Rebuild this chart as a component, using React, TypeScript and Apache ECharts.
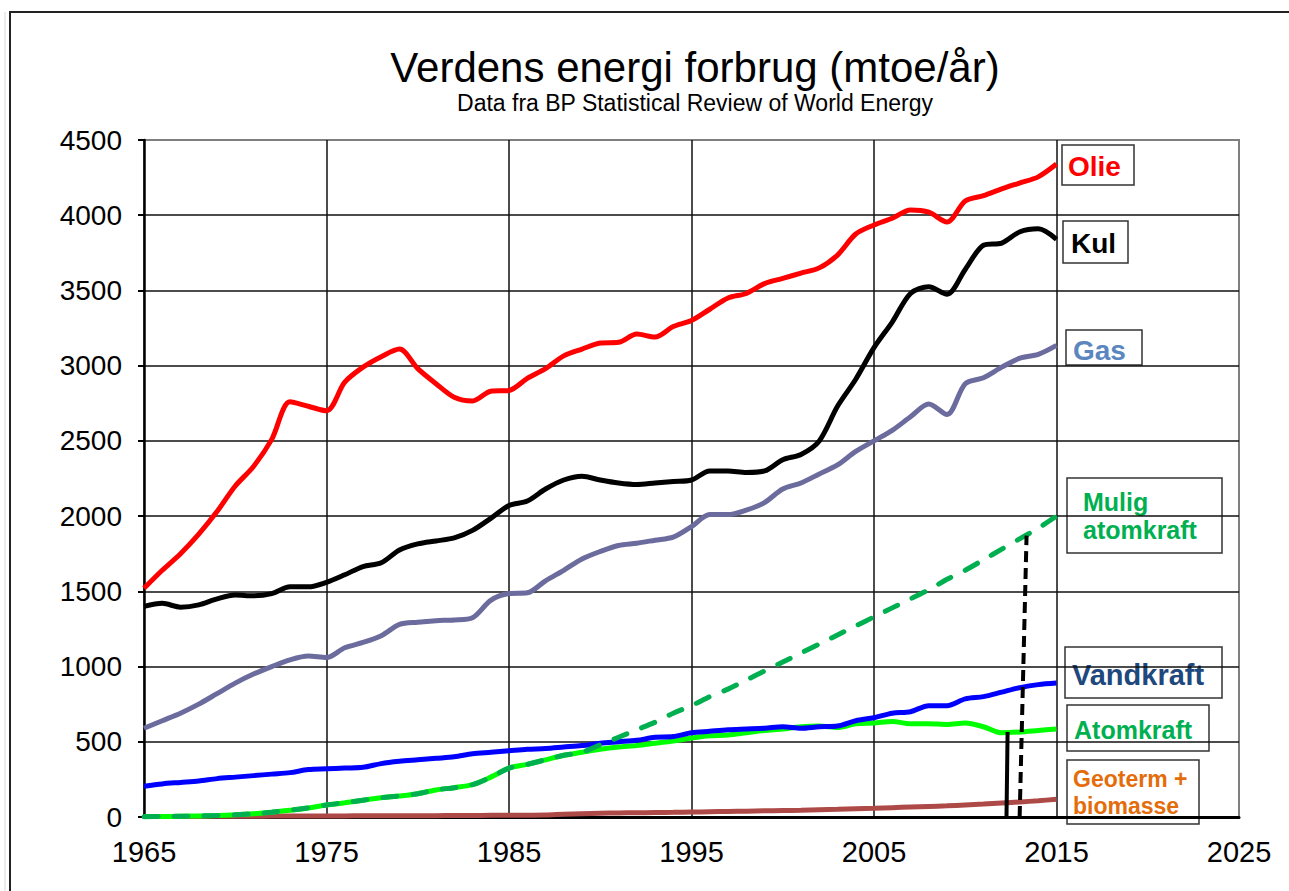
import React, { useEffect, useRef } from "react";
import * as echarts from "echarts";

const BASE_YEAR = 1965;
const years = [
  1965, 1966, 1967, 1968, 1969, 1970, 1971, 1972, 1973, 1974,
  1975, 1976, 1977, 1978, 1979, 1980, 1981, 1982, 1983, 1984,
  1985, 1986, 1987, 1988, 1989, 1990, 1991, 1992, 1993, 1994,
  1995, 1996, 1997, 1998, 1999, 2000, 2001, 2002, 2003, 2004,
  2005, 2006, 2007, 2008, 2009, 2010, 2011, 2012, 2013, 2014, 2015,
];
const xTickLabels = ["1965", "1975", "1985", "1995", "2005", "2015", "2025"];
const yTickLabels = ["0", "500", "1000", "1500", "2000", "2500", "3000", "3500", "4000", "4500"];

const olie = [
  1520, 1640, 1750, 1880, 2030, 2200, 2330, 2510, 2760, 2730,
  2700, 2890, 2990, 3060, 3110, 2980, 2880, 2790, 2765, 2830,
  2835, 2915, 2980, 3065, 3110, 3150, 3155, 3210, 3190, 3260,
  3300, 3375, 3450, 3480, 3545, 3580, 3615, 3650, 3735, 3875,
  3935, 3980, 4035, 4020, 3955, 4095, 4130, 4175, 4215, 4255, 4340,
];
const kul = [
  1400, 1420, 1395, 1410, 1450, 1475, 1470, 1485, 1530, 1530,
  1560, 1610, 1665, 1690, 1775, 1815, 1835, 1855, 1905, 1985,
  2070, 2100, 2180, 2240, 2265, 2240, 2220, 2210, 2220, 2230,
  2240, 2300, 2300, 2290, 2300, 2375, 2410, 2500, 2730, 2910,
  3120, 3290, 3480, 3525, 3475, 3640, 3800, 3815, 3890, 3910, 3840,
];
const gas = [
  590, 640, 690, 750, 820, 890, 950, 1000, 1045, 1070,
  1060, 1125, 1160, 1205, 1280, 1295, 1305, 1310, 1325, 1440,
  1485, 1490, 1570, 1640, 1715, 1765, 1805, 1820, 1840, 1860,
  1930, 2010, 2010, 2040, 2090, 2180, 2220, 2280, 2340, 2430,
  2500, 2570, 2660, 2745, 2675, 2880, 2920, 2990, 3050, 3075, 3135,
];
const vandkraft = [
  205, 220, 230, 240, 255, 265, 275, 285, 295, 315,
  320, 325, 330, 355, 370, 380, 390, 400, 420, 430,
  440, 450, 455, 465, 475, 490, 500, 510, 530, 535,
  560, 570, 580, 585, 590, 600, 590, 600, 605, 640,
  660, 690, 700, 740, 740, 785, 800, 830, 860, 880, 890,
];
const atomkraft = [
  2, 3, 5, 7, 10, 15, 22, 32, 45, 60,
  80, 95, 112, 128, 140, 155, 180, 195, 215, 265,
  325, 350, 380, 410, 430, 450, 465, 475, 490, 505,
  525, 540, 545, 560, 575, 585, 600, 605, 595, 620,
  625, 635, 620, 620, 615, 625, 600, 560, 565, 575, 585,
];
const geoterm = [
  3, 3, 4, 4, 5, 5, 5, 6, 6, 6,
  7, 7, 8, 8, 8, 9, 9, 10, 10, 11,
  12, 12, 13, 18, 22, 25, 27, 28, 30, 31,
  33, 35, 37, 39, 41, 43, 45, 48, 51, 55,
  58, 62, 66, 70, 74, 80, 86, 93, 100, 108, 118,
];
// "Mulig atomkraft": follows Atomkraft up to 1989, then this projection 1990-2015
const muligFromYear = 1990;
const muligProjection = [
  480, 530, 580, 630, 690, 740, 800, 850, 910, 970,
  1030, 1090, 1150, 1210, 1270, 1330, 1390, 1450, 1510, 1580,
  1640, 1710, 1780, 1850, 1920, 2000,
];
// Vertical marker lines (year, value)
const markerSolid = [[2012.26, 0], [2012.32, 565]];
const markerDashed = [[2012.98, 0], [2013.36, 1870]];

const FONT = '"Liberation Sans", Arial, sans-serif';

function toPairs(vals: number[], startYear = BASE_YEAR) {
  return vals.map((v, i) => [startYear + i - BASE_YEAR, v]);
}

export default function App() {
  const ref = useRef<HTMLDivElement>(null);
  useEffect(() => {
    if (!ref.current) return;
    const chart = echarts.init(ref.current, undefined, { renderer: "svg" });
    const muligStartIdx = years.indexOf(muligFromYear);
    const mulig = [
      ...toPairs(atomkraft.slice(0, muligStartIdx)),
      ...toPairs(muligProjection, muligFromYear),
    ];
    const base = {
      type: "line",
      showSymbol: false,
      smooth: 0.3,
      silent: true,
    };
    const option: any = {
      animation: false,
      backgroundColor: "#ffffff",
      grid: {
        left: 144,
        top: 140,
        width: 1095,
        height: 677,
        show: true,
        borderColor: "#7f7f7f",
        borderWidth: 2,
        backgroundColor: "transparent",
      },
      xAxis: {
        type: "value",
        min: 0,
        max: 60,
        interval: 10,
        axisLine: { show: true, onZero: false, lineStyle: { color: "#000", width: 3 } },
        axisTick: { show: false },
        axisLabel: {
          margin: 20,
          fontSize: 29,
          color: "#000",
          fontFamily: FONT,
          formatter: (v: number) => xTickLabels[Math.round(v / 10)] ?? String(v + BASE_YEAR),
        },
        splitLine: {
          show: true,
          showMinLine: false,
          showMaxLine: false,
          lineStyle: { color: "#111", width: 1.5 },
        },
      },
      yAxis: {
        type: "value",
        min: 0,
        max: 4500,
        interval: 500,
        axisLine: { show: true, lineStyle: { color: "#000", width: 2.5 } },
        axisTick: { show: true, length: 6, lineStyle: { color: "#000", width: 2 } },
        axisLabel: {
          margin: 22,
          fontSize: 28,
          color: "#000",
          fontFamily: FONT,
          formatter: (v: number) => yTickLabels[Math.round(v / 500)] ?? String(v),
        },
        splitLine: {
          show: true,
          showMinLine: false,
          showMaxLine: false,
          lineStyle: { color: "#111", width: 1.5 },
        },
      },
      series: [
        { ...base, name: "Geoterm + biomasse", data: toPairs(geoterm), lineStyle: { color: "#ad4a47", width: 5 }, z: 2 },
        { ...base, name: "Atomkraft", data: toPairs(atomkraft), lineStyle: { color: "#00ff00", width: 5 }, z: 3 },
        { ...base, name: "Vandkraft", data: toPairs(vandkraft), lineStyle: { color: "#0000ff", width: 5 }, z: 4 },
        { ...base, name: "Gas", data: toPairs(gas), lineStyle: { color: "#6b6b9e", width: 5 }, z: 5 },
        { ...base, name: "Kul", data: toPairs(kul), lineStyle: { color: "#000000", width: 5 }, z: 6 },
        { ...base, name: "Olie", data: toPairs(olie), lineStyle: { color: "#ff0000", width: 5 }, z: 7 },
        {
          ...base,
          name: "Mulig atomkraft",
          data: mulig,
          lineStyle: { color: "#00b050", width: 5, type: [14, 16], cap: "round" },
          z: 8,
        },
        {
          ...base,
          smooth: false,
          name: "marker solid",
          data: markerSolid.map(([y, v]) => [y - BASE_YEAR, v]),
          lineStyle: { color: "#000", width: 4 },
          z: 9,
        },
        {
          ...base,
          smooth: false,
          name: "marker dashed",
          data: markerDashed.map(([y, v]) => [y - BASE_YEAR, v]),
          lineStyle: { color: "#000", width: 4, type: [11, 6] },
          z: 9,
        },
      ],
      graphic: [
        { type: "line", shape: { x1: 9, y1: 12, x2: 1289, y2: 12 }, style: { stroke: "#222", lineWidth: 2 } },
        { type: "line", shape: { x1: 10, y1: 12, x2: 10, y2: 891 }, style: { stroke: "#222", lineWidth: 2 } },
        { type: "line", shape: { x1: 5, y1: 12, x2: 5, y2: 891 }, style: { stroke: "#d8d8d8", lineWidth: 1 } },
        {
          type: "text", x: 695, y: 67,
          style: { text: "Verdens energi forbrug (mtoe/år)", fill: "#000", fontSize: 42, fontFamily: FONT, align: "center", verticalAlign: "middle" },
        },
        {
          type: "text", x: 695, y: 103,
          style: { text: "Data fra BP Statistical Review of World Energy", fill: "#000", fontSize: 23, fontFamily: FONT, align: "center", verticalAlign: "middle" },
        },
        // Olie
        { type: "rect", shape: { x: 1062, y: 145, width: 72, height: 40 }, style: { fill: "none", stroke: "#333", lineWidth: 1.5 } },
        { type: "text", x: 1068, y: 166, style: { text: "Olie", fill: "#ff0000", fontSize: 28, fontWeight: "bold", fontFamily: FONT, verticalAlign: "middle" } },
        // Kul
        { type: "rect", shape: { x: 1063, y: 221, width: 65, height: 42 }, style: { fill: "none", stroke: "#333", lineWidth: 1.5 } },
        { type: "text", x: 1071, y: 243, style: { text: "Kul", fill: "#000000", fontSize: 28, fontWeight: "bold", fontFamily: FONT, verticalAlign: "middle" } },
        // Gas
        { type: "rect", shape: { x: 1066, y: 330, width: 76, height: 35 }, style: { fill: "none", stroke: "#333", lineWidth: 1.5 } },
        { type: "text", x: 1073, y: 350, style: { text: "Gas", fill: "#5b86c0", fontSize: 28, fontWeight: "bold", fontFamily: FONT, verticalAlign: "middle" } },
        // Mulig atomkraft
        { type: "rect", shape: { x: 1067, y: 478, width: 155, height: 75 }, style: { fill: "none", stroke: "#333", lineWidth: 1.5 } },
        { type: "text", x: 1083, y: 502, style: { text: "Mulig", fill: "#00b050", fontSize: 25, fontWeight: "bold", fontFamily: FONT, verticalAlign: "middle" } },
        { type: "text", x: 1083, y: 530, style: { text: "atomkraft", fill: "#00b050", fontSize: 25, fontWeight: "bold", fontFamily: FONT, verticalAlign: "middle" } },
        // Vandkraft
        { type: "rect", shape: { x: 1065, y: 647, width: 157, height: 51 }, style: { fill: "none", stroke: "#333", lineWidth: 1.5 } },
        { type: "text", x: 1072, y: 675, style: { text: "Vandkraft", fill: "#1f497d", fontSize: 29, fontWeight: "bold", fontFamily: FONT, verticalAlign: "middle" } },
        // Atomkraft
        { type: "rect", shape: { x: 1067, y: 705, width: 142, height: 46 }, style: { fill: "none", stroke: "#333", lineWidth: 1.5 } },
        { type: "text", x: 1074, y: 730, style: { text: "Atomkraft", fill: "#00b050", fontSize: 25, fontWeight: "bold", fontFamily: FONT, verticalAlign: "middle" } },
        // Geoterm + biomasse
        { type: "rect", shape: { x: 1067, y: 760, width: 132, height: 64 }, style: { fill: "#fff", stroke: "#333", lineWidth: 1.5 } },
        { type: "text", x: 1073, y: 779, style: { text: "Geoterm +", fill: "#e46c0a", fontSize: 23, fontWeight: "bold", fontFamily: FONT, verticalAlign: "middle" } },
        { type: "text", x: 1073, y: 806, style: { text: "biomasse", fill: "#e46c0a", fontSize: 23, fontWeight: "bold", fontFamily: FONT, verticalAlign: "middle" } },
      ],
    };
    chart.setOption(option);
    return () => chart.dispose();
  }, []);
  return (
    <div
      ref={ref}
      style={{ position: "fixed", left: 0, top: 0, width: 1289, height: 891, background: "#fff" }}
    />
  );
}
